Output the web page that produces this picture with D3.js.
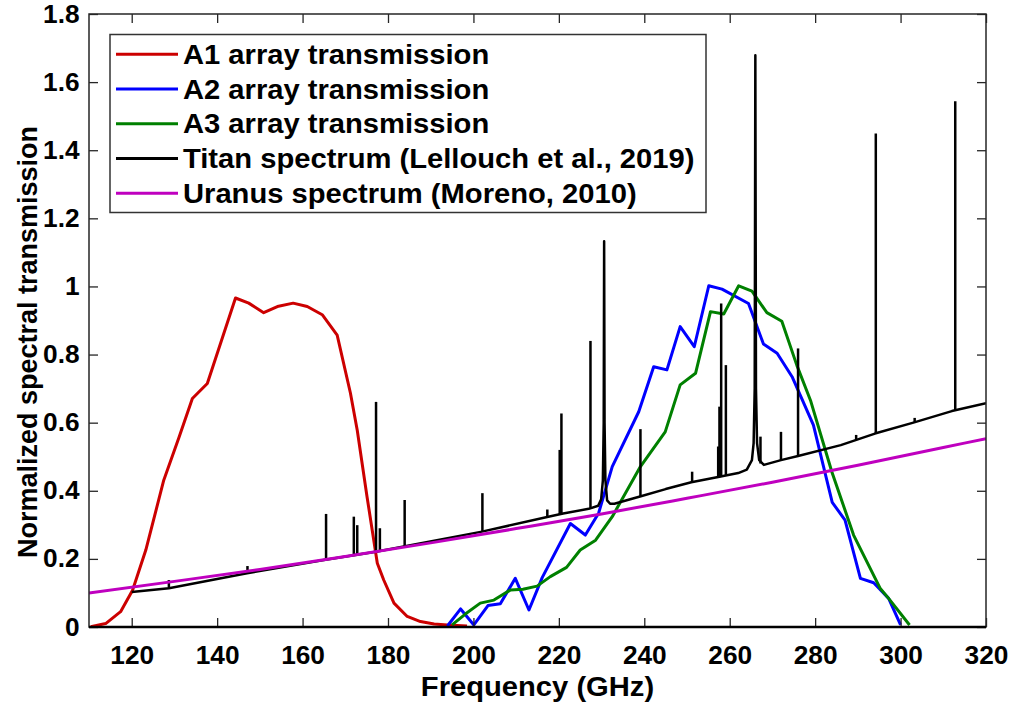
<!DOCTYPE html>
<html>
<head>
<meta charset="utf-8">
<script src="https://cdn.jsdelivr.net/npm/d3@7"></script>
<style>
  html, body { margin: 0; padding: 0; background: #ffffff; }
  svg { display: block; }
  text { font-family: "Liberation Sans", Arial, Helvetica, sans-serif; font-weight: bold; fill: #000; }
</style>
</head>
<body>
<svg id="chart" width="1011" height="704"></svg>
<script>
// ---------------- DATA ----------------
const xTicks = [120, 140, 160, 180, 200, 220, 240, 260, 280, 300, 320];
const yTicks = [0, 0.2, 0.4, 0.6, 0.8, 1, 1.2, 1.4, 1.6, 1.8];

// A1 array transmission (red)
const a1Freq = [110.4, 113.9, 117.4, 120.2, 123.3, 127.5, 131.1, 134.2, 137.7, 144.3, 147.4, 150.9, 154.1, 157.8, 161.1, 164.6, 168.1, 171.2, 172.8, 175.1, 177.5, 179.0, 181.4, 184.5, 187.6, 190.8, 193.9, 198.5];
const a1Val  = [0.001, 0.010, 0.045, 0.108, 0.226, 0.431, 0.558, 0.671, 0.715, 0.966, 0.951, 0.923, 0.941, 0.951, 0.941, 0.917, 0.857, 0.687, 0.578, 0.382, 0.187, 0.138, 0.070, 0.031, 0.016, 0.009, 0.006, 0.003];

// A2 array transmission (blue)
const a2Freq = [193.9, 197.0, 200.1, 203.4, 206.3, 209.8, 213.0, 216.1, 222.7, 226.2, 229.3, 232.5, 238.7, 242.2, 245.3, 248.4, 251.7, 255.1, 258.2, 264.4, 267.9, 271.1, 274.6, 279.6, 284.0, 287.0, 290.6, 293.7, 297.2, 300.0];
const a2Val  = [0.003, 0.053, 0.006, 0.063, 0.068, 0.143, 0.050, 0.145, 0.304, 0.270, 0.334, 0.471, 0.632, 0.764, 0.755, 0.882, 0.823, 1.002, 0.992, 0.950, 0.831, 0.804, 0.735, 0.593, 0.366, 0.314, 0.143, 0.130, 0.084, 0.006];

// A3 array transmission (green)
const a3Freq = [195.0, 198.1, 201.6, 204.8, 208.7, 211.6, 214.9, 218.0, 221.8, 225.0, 228.6, 232.5, 239.1, 244.9, 248.4, 252.0, 255.5, 258.6, 262.1, 265.2, 268.7, 272.2, 275.7, 278.9, 283.9, 289.0, 295.2, 297.2, 302.1];
const a3Val  = [0.006, 0.038, 0.070, 0.079, 0.109, 0.111, 0.120, 0.148, 0.175, 0.226, 0.255, 0.324, 0.471, 0.573, 0.711, 0.745, 0.926, 0.919, 1.002, 0.986, 0.923, 0.898, 0.769, 0.666, 0.456, 0.270, 0.114, 0.084, 0.006];

// Titan spectrum (black): continuum incl. broad CO (230.5 GHz) and HCN (265.9 GHz) wings
const titanFreq = [120, 128.7, 147, 165, 177.5, 184, 202, 217, 221, 227, 229.2, 229.9, 230.3, 230.5, 230.6, 230.7, 230.9, 231.3, 232.0, 233, 239, 245, 251, 257, 262, 264, 265.2, 265.6, 265.85, 266.0, 266.15, 266.4, 266.9, 268, 272, 276, 286, 294, 303, 312, 320];
const titanVal  = [0.103, 0.114, 0.158, 0.197, 0.222, 0.237, 0.280, 0.322, 0.333, 0.347, 0.356, 0.375, 0.430, 0.600, 1.133, 0.600, 0.430, 0.372, 0.362, 0.362, 0.383, 0.405, 0.425, 0.440, 0.452, 0.462, 0.490, 0.540, 0.700, 1.679, 0.700, 0.540, 0.490, 0.476, 0.490, 0.502, 0.534, 0.568, 0.600, 0.634, 0.657];
// narrow Titan lines: frequency, continuum level, peak level
const lineFreq = [128.7, 147.1, 165.5, 172.0, 172.8, 177.2, 178.1, 183.9, 202.1, 217.3, 220.2, 220.6, 227.4, 239.1, 251.2, 257.3, 257.6, 258.0, 259.1, 267.2, 272.0, 276.0, 289.6, 294.2, 303.3, 312.8];
const lineBase = [0.114, 0.158, 0.200, 0.212, 0.214, 0.222, 0.224, 0.237, 0.280, 0.322, 0.330, 0.331, 0.348, 0.383, 0.425, 0.440, 0.440, 0.441, 0.444, 0.480, 0.490, 0.502, 0.550, 0.568, 0.600, 0.636];
const linePeak = [0.138, 0.179, 0.332, 0.324, 0.299, 0.661, 0.290, 0.373, 0.393, 0.345, 0.520, 0.627, 0.840, 0.581, 0.456, 0.530, 0.647, 0.950, 0.769, 0.559, 0.573, 0.818, 0.564, 1.449, 0.614, 1.544];

// Uranus spectrum (magenta)
const uranusFreq = [110, 130, 150, 170, 190, 210, 230, 250, 270, 290, 310, 320];
const uranusVal  = [0.100, 0.134, 0.169, 0.207, 0.247, 0.289, 0.332, 0.378, 0.425, 0.475, 0.527, 0.553];

const legendLabels = [
  "A1 array transmission",
  "A2 array transmission",
  "A3 array transmission",
  "Titan spectrum (Lellouch et al., 2019)",
  "Uranus spectrum (Moreno, 2010)"
];
const seriesColors = ["#cc0000", "#0000ff", "#008000", "#000000", "#bf00bf"];

// ---------------- LAYOUT ----------------
const W = 1011, H = 704;
const pL = 89, pR = 986, pT = 14, pB = 627;
const FS = 27, SX = 1.08;     // legend / axis-title text
const TFS = 25, TSX = 1.05;   // tick label text

const svg = d3.select("#chart");
svg.append("rect").attr("width", W).attr("height", H).attr("fill", "#fff");

const x = d3.scaleLinear().domain([110, 320]).range([pL, pR]);
const y = d3.scaleLinear().domain([0, 1.8]).range([pB, pT]);

const fmtY = d => (d === 0 ? "0" : d === 1 ? "1" : d3.format(".1f")(d));

svg.append("clipPath").attr("id", "clip").append("rect")
  .attr("x", pL).attr("y", pT).attr("width", pR - pL).attr("height", pB - pT);

const plot = svg.append("g").attr("clip-path", "url(#clip)");

const lineGen = d3.line().x(d => x(d[0])).y(d => y(d[1]));
const zip = (a, b) => a.map((v, i) => [v, b[i]]);
const LW = 3;

plot.append("path").datum(zip(a1Freq, a1Val)).attr("d", lineGen)
  .attr("fill", "none").attr("stroke", seriesColors[0]).attr("stroke-width", LW).attr("stroke-linejoin", "round");
plot.append("path").datum(zip(a2Freq, a2Val)).attr("d", lineGen)
  .attr("fill", "none").attr("stroke", seriesColors[1]).attr("stroke-width", LW).attr("stroke-linejoin", "round");
plot.append("path").datum(zip(a3Freq, a3Val)).attr("d", lineGen)
  .attr("fill", "none").attr("stroke", seriesColors[2]).attr("stroke-width", LW).attr("stroke-linejoin", "round");

plot.append("path").datum(zip(titanFreq, titanVal)).attr("d", lineGen)
  .attr("fill", "none").attr("stroke", seriesColors[3]).attr("stroke-width", 2.5).attr("stroke-linejoin", "round");
plot.append("g").selectAll("line").data(lineFreq.map((f, i) => ({ f, b: lineBase[i], p: linePeak[i] })))
  .join("line")
  .attr("x1", d => x(d.f)).attr("x2", d => x(d.f))
  .attr("y1", d => y(d.b)).attr("y2", d => y(d.p))
  .attr("stroke", "#000").attr("stroke-width", 2.5);

plot.append("path").datum(zip(uranusFreq, uranusVal))
  .attr("d", d3.line().curve(d3.curveMonotoneX).x(d => x(d[0])).y(d => y(d[1])))
  .attr("fill", "none").attr("stroke", seriesColors[4]).attr("stroke-width", LW);

// ---------------- AXES ----------------
const axisColor = "#262626";
function styleAxis(g) {
  g.select(".domain").remove();
  g.selectAll(".tick line").attr("stroke", axisColor).attr("stroke-width", 1.3);
}

const gx = svg.append("g").attr("transform", `translate(0,${pB})`)
  .call(d3.axisBottom(x).tickValues(xTicks).tickSizeInner(-9).tickSizeOuter(0).tickPadding(19).tickFormat(d3.format("d")));
styleAxis(gx);
gx.selectAll(".tick text").attr("font-size", TFS).attr("font-family", "Liberation Sans, Arial, sans-serif")
  .attr("font-weight", "bold").attr("fill", "#000").attr("transform", `scale(${TSX},1)`);

const gxTop = svg.append("g").attr("transform", `translate(0,${pT})`)
  .call(d3.axisTop(x).tickValues(xTicks).tickSizeInner(-9).tickSizeOuter(0).tickFormat(""));
styleAxis(gxTop);

const gy = svg.append("g").attr("transform", `translate(${pL},0)`)
  .call(d3.axisLeft(y).tickValues(yTicks).tickSizeInner(-9).tickSizeOuter(0).tickPadding(9).tickFormat(fmtY));
styleAxis(gy);
gy.selectAll(".tick text").attr("font-size", TFS).attr("font-family", "Liberation Sans, Arial, sans-serif")
  .attr("font-weight", "bold").attr("fill", "#000").attr("transform", `scale(${TSX},1)`);

const gyR = svg.append("g").attr("transform", `translate(${pR},0)`)
  .call(d3.axisRight(y).tickValues(yTicks).tickSizeInner(-9).tickSizeOuter(0).tickFormat(""));
styleAxis(gyR);

svg.append("rect").attr("x", pL).attr("y", pT).attr("width", pR - pL).attr("height", pB - pT)
  .attr("fill", "none").attr("stroke", axisColor).attr("stroke-width", 1.5);
svg.append("line").attr("x1", pL).attr("x2", pR).attr("y1", pB).attr("y2", pB)
  .attr("stroke", "#000").attr("stroke-width", 2.6);

const cx = (pL + pR) / 2;
svg.append("text").attr("x", cx).attr("y", 696).attr("text-anchor", "middle")
  .attr("font-size", FS).attr("transform", `translate(${cx},0) scale(${SX},1) translate(${-cx},0)`)
  .text("Frequency (GHz)");
svg.append("text").attr("transform", `translate(37,342) rotate(-90)`).attr("text-anchor", "middle")
  .attr("font-size", FS).text("Normalized spectral transmission");

// ---------------- LEGEND ----------------
const lg = svg.append("g");
lg.append("rect").attr("x", 110).attr("y", 34.5).attr("width", 596).attr("height", 178)
  .attr("fill", "#fff").attr("stroke", "#333").attr("stroke-width", 1.5);
legendLabels.forEach((lab, i) => {
  const yy = 54.3 + i * 34.75;
  lg.append("line").attr("x1", 116).attr("x2", 178).attr("y1", yy).attr("y2", yy)
    .attr("stroke", seriesColors[i]).attr("stroke-width", LW);
  lg.append("text").attr("x", 183).attr("y", yy + 9.7).attr("font-size", FS)
    .attr("transform", `translate(183,0) scale(${SX},1) translate(-183,0)`)
    .text(lab);
});
</script>
</body>
</html>
